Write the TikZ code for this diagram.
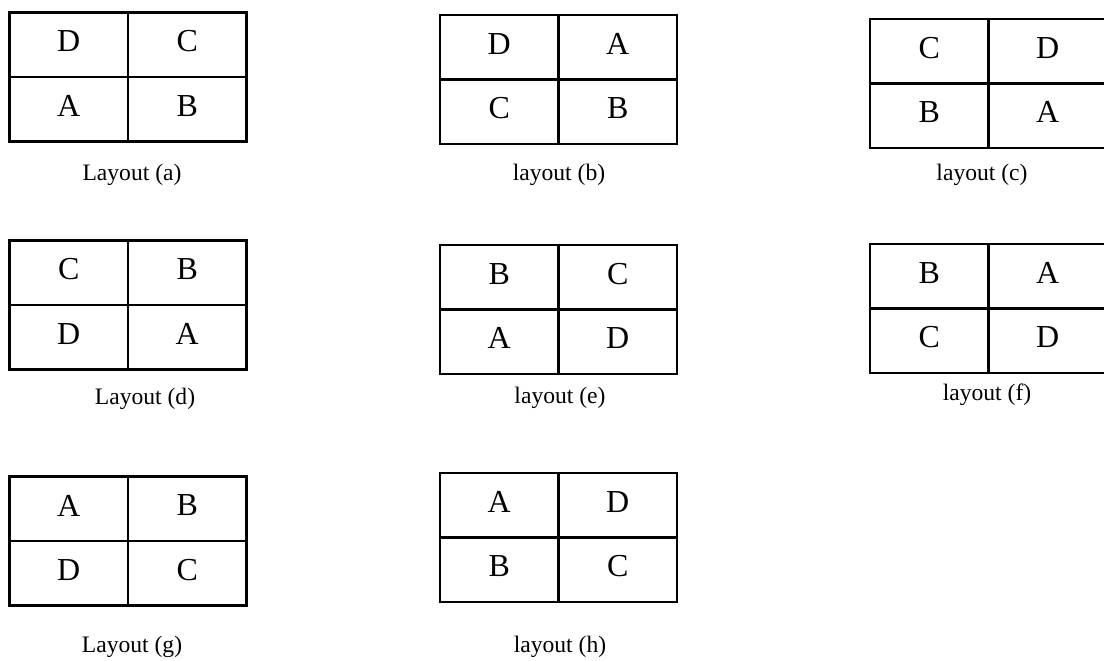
\documentclass[tikz,border=0pt]{standalone}
\usepackage{fontspec}
\setmainfont{Liberation Serif}
\usepackage{tikz}

\begin{document}
\begin{tikzpicture}[x=0.5pt, y=-0.5pt,
  gridframe/.style={draw, line width=1.35pt, minimum width=118.5pt, minimum height=64.5pt, inner sep=0pt, outer sep=0pt},
  midline/.style={line width=1.1pt},
  cell/.style={font=\fontsize{16}{18}\selectfont, inner sep=0pt},
  caption/.style={font=\fontsize{11.8}{14}\selectfont, inner sep=0pt},]
\useasboundingbox (0,0) rectangle (1104,660);
\clip (0,0) rectangle (1104,660);
\foreach \n/\x/\y/\p/\q/\r/\s/\lab/\lx/\ly in {
  a/9.5/12.7/D/C/A/B/{Layout (a)}/132/175,
  b/440/15/D/A/C/B/{layout (b)}/559/175,
  c/870/19/C/D/B/A/{layout (c)}/982/175,
  d/9.5/240.7/C/B/D/A/{Layout (d)}/145/399,
  e/440/245/B/C/A/D/{layout (e)}/560/398,
  f/870/244/B/A/C/D/{layout (f)}/987/395,
  g/9.5/476.7/A/B/D/C/{Layout (g)}/132/647,
  h/440/473/A/D/B/C/{layout (h)}/560/647}
{
  \node[gridframe] (\n) at (\x+118.5, \y+64.5) {};
  \draw[midline] (\n.north) -- (\n.south);
  \draw[midline] (\n.west) -- (\n.east);
  \node[cell] (\n1) at (\x+59.25, \y+28.75) {\p};
  \node[cell] (\n2) at (\x+177.75, \y+28.75) {\q};
  \node[cell] (\n3) at (\x+59.25, \y+93.25) {\r};
  \node[cell] (\n4) at (\x+177.75, \y+93.25) {\s};
  \node[caption] (\n-lab) at (\lx, \ly) {\lab};
}
\end{tikzpicture}
\end{document}
